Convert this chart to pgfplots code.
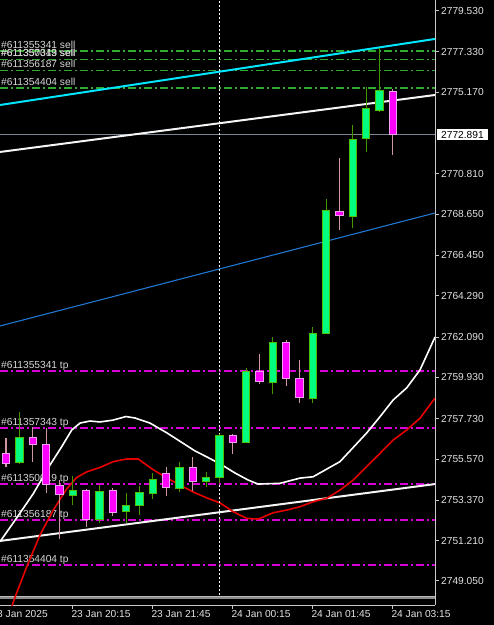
\documentclass[border=0pt]{standalone}
\usepackage{fontspec}
\setmainfont{Liberation Sans}
\usepackage{pgfplots}
\pgfplotsset{compat=1.18}

\definecolor{bullfillc}{RGB}{0,255,127}
\definecolor{bulllinec}{RGB}{80,190,0}
\definecolor{bullwickc}{RGB}{70,150,0}
\definecolor{bearfillc}{RGB}{255,0,255}
\definecolor{bearlinec}{RGB}{240,160,240}
\definecolor{bearwickc}{RGB}{205,150,160}
\definecolor{ordgreen}{RGB}{50,170,50}
\definecolor{ordmag}{RGB}{215,0,215}
\definecolor{lvlcyan}{RGB}{0,230,255}
\definecolor{lvlblue}{RGB}{30,120,210}
\definecolor{pricegray}{RGB}{119,136,153}
\definecolor{axisgray}{RGB}{200,200,200}
\definecolor{labgray}{RGB}{225,225,225}
\definecolor{ordlab}{RGB}{215,215,215}
\definecolor{curvered}{RGB}{230,0,0}

\pgfplotsset{
  bullW/.style={draw=bullwickc, line width=1pt, no markers},
  bullB/.style={draw=bulllinec, fill=bullfillc, line width=1pt, no markers},
  bearW/.style={draw=bearwickc, line width=1pt, no markers},
  bearB/.style={draw=bearlinec, fill=bearfillc, line width=1pt, no markers},
  ordG/.style={ordgreen, line width=1.5pt, dash pattern=on 8pt off 3pt on 2pt off 3pt, no markers},
  ordM/.style={ordmag, line width=1.5pt, dash pattern=on 8pt off 3pt on 2pt off 3pt, no markers},
}

% i, open, high, low, close, type
\newcommand{\candle}[6]{%
  \pgfmathsetmacro\xl{#1-0.275}%
  \pgfmathsetmacro\xr{#1+0.275}%
  \edef\tmp{\noexpand\addplot[#6W] coordinates {(#1,#4) (#1,#3)};%
    \noexpand\addplot[#6B] coordinates {(\xl,#2) (\xr,#2) (\xr,#5) (\xl,#5)} -- cycle;}%
  \tmp}

\newcommand{\ordlabel}[2]{%
  \node[anchor=base west, inner sep=0pt, xshift=1pt, yshift=2.4pt, text=ordlab,
        font=\fontsize{10.2}{12}\selectfont] at (axis cs:-0.45,#1) {#2};}

\begin{document}
\begin{tikzpicture}
\fill[black] (0pt,0pt) rectangle (494pt,625pt);
\begin{axis}[
  at={(0pt,20pt)}, anchor=south west,
  scale only axis, width=435pt, height=605pt,
  xmin=-0.45, xmax=32.175, ymin=2747.767, ymax=2780.102,
  clip mode=individual,
  axis x line*=bottom, axis y line*=right,
  axis line style={draw=axisgray, line width=1pt, -},
  tick align=outside, major tick length=4pt,
  tick style={draw=axisgray, line width=1pt},
  xtick={5,11,17,23,29},
  xticklabels={23 Jan 20:15, 23 Jan 21:45, 24 Jan 00:15, 24 Jan 01:45, 24 Jan 03:15},
  ytick={2749.05,2751.21,2753.37,2755.57,2757.73,2759.93,2762.09,2764.29,2766.45,2768.65,2770.81,2775.17,2777.33,2779.53},
  yticklabels={2749.050,2751.210,2753.370,2755.570,2757.730,2759.930,2762.090,2764.290,2766.450,2768.650,2770.810,2775.170,2777.330,2779.530},
  xticklabel style={anchor=north west, inner sep=0pt, xshift=-1.3pt, yshift=-1.6pt, text=labgray, font=\fontsize{10.2}{12}\selectfont},
  yticklabel style={anchor=west, inner sep=0pt, xshift=2pt, text=labgray, font=\fontsize{10.2}{12}\selectfont},
  no markers,
]
% bottom gray band
\addplot[color={rgb,255:red,140;green,140;blue,140}, line width=3pt] coordinates {(-0.45,2748.17) (32.175,2748.17)};
\addplot[color={rgb,255:red,185;green,185;blue,185}, line width=1pt] coordinates {(-0.45,2748.23) (32.175,2748.23)};

% order levels (sell = green, tp = magenta)
\addplot[ordG] coordinates {(-0.45,2777.38) (32.175,2777.38)};
\addplot[ordG] coordinates {(-0.45,2776.93) (32.175,2776.93)};
\addplot[ordG] coordinates {(-0.45,2776.34) (32.175,2776.34)};
\addplot[ordG] coordinates {(-0.45,2775.41) (32.175,2775.41)};
\addplot[ordM] coordinates {(-0.45,2760.27) (32.175,2760.27)};
\addplot[ordM] coordinates {(-0.45,2757.24) (32.175,2757.24)};
\addplot[ordM] coordinates {(-0.45,2754.23) (32.175,2754.23)};
\addplot[ordM] coordinates {(-0.45,2752.31) (32.175,2752.31)};
\addplot[ordM] coordinates {(-0.45,2749.90) (32.175,2749.90)};

\ordlabel{2777.38}{\#611355341 sell}
\ordlabel{2776.93}{\#611357343 sell}
\ordlabel{2776.93}{\#611350019 sell}
\ordlabel{2776.34}{\#611356187 sell}
\ordlabel{2775.41}{\#611354404 sell}
\ordlabel{2760.27}{\#611355341 tp}
\ordlabel{2757.24}{\#611357343 tp}
\ordlabel{2754.23}{\#611350019 tp}
\ordlabel{2752.31}{\#611356187 tp}
\ordlabel{2749.90}{\#611354404 tp}

% current price line
\addplot[pricegray, line width=1pt] coordinates {(-0.45,2772.891) (32.175,2772.891)};

% trend / channel lines
\addplot[lvlcyan, line width=2pt] coordinates {(-0.45,2774.49) (32.175,2778.02)};
\addplot[white!92!gray, line width=2pt] coordinates {(-0.45,2771.98) (32.175,2775.025)};
\addplot[lvlblue, line width=1.1pt] coordinates {(-0.45,2762.68) (32.175,2768.72)};
\addplot[white!92!gray, line width=2pt] coordinates {(-0.45,2751.19) (32.175,2754.23)};

% white curve
\addplot[white, line width=1.6pt] coordinates {
(-0.45,2751.15) (0.80,2752.42) (2.03,2753.70) (3.30,2755.25) (4.18,2756.23) (4.93,2757.12)
(5.55,2757.49) (6.30,2757.60) (7.05,2757.55) (8.03,2757.65) (9.00,2757.84) (9.68,2757.76)
(10.80,2757.49) (12.08,2756.96) (13.13,2756.48) (14.18,2756.00) (15.15,2755.65) (16.20,2755.25)
(17.18,2754.82) (18.15,2754.45) (18.90,2754.23) (20.55,2754.27) (22.05,2754.55) (23.03,2754.62)
(25.05,2755.43) (27.05,2756.96) (28.05,2757.83) (29.03,2758.72) (30.05,2759.37) (31.05,2760.33)
(32.18,2762.09)};

% red curve
\addplot[curvered, line width=1.6pt] coordinates {
(0.45,2747.71) (0.68,2748.19) (1.55,2749.80) (2.55,2751.51) (3.55,2752.84) (4.55,2753.97)
(5.30,2754.58) (6.05,2754.88) (7.05,2755.12) (8.05,2755.43) (9.05,2755.57) (9.92,2755.57)
(10.95,2755.04) (12.00,2754.58) (13.05,2754.18) (14.03,2753.81) (15.00,2753.51) (16.05,2753.22)
(17.05,2752.75) (18.05,2752.40) (18.92,2752.36) (20.05,2752.70) (21.05,2752.84) (22.05,2753.02)
(23.05,2753.29) (24.05,2753.47) (25.05,2753.91) (26.05,2754.45) (27.05,2755.16) (28.05,2755.87)
(29.05,2756.59) (30.05,2757.12) (31.05,2757.75) (32.18,2758.83)};

% period separator
\addplot[white, line width=1pt, dash pattern=on 2pt off 2pt] coordinates {(16,2748.3) (16,2780.102)};

% candles
\candle{0}{2755.87}{2756.68}{2755.13}{2755.34}{bear}
\candle{1}{2755.37}{2758.10}{2755.30}{2756.73}{bull}
\candle{2}{2756.73}{2757.30}{2755.43}{2756.36}{bear}
\candle{3}{2756.32}{2757.24}{2753.74}{2754.23}{bear}
\candle{4}{2754.18}{2754.45}{2751.32}{2753.67}{bear}
\candle{5}{2753.61}{2754.66}{2753.11}{2753.88}{bull}
\candle{6}{2753.86}{2753.97}{2751.94}{2752.31}{bear}
\candle{7}{2752.31}{2754.18}{2752.13}{2753.81}{bull}
\candle{8}{2753.86}{2754.00}{2752.52}{2752.71}{bear}
\candle{9}{2752.74}{2753.74}{2752.15}{2753.11}{bull}
\candle{10}{2753.07}{2754.14}{2752.58}{2753.77}{bull}
\candle{11}{2753.75}{2754.81}{2753.43}{2754.45}{bull}
\candle{12}{2754.81}{2755.12}{2753.59}{2754.05}{bear}
\candle{13}{2754.00}{2755.39}{2753.82}{2755.11}{bull}
\candle{14}{2755.11}{2755.69}{2753.88}{2754.36}{bear}
\candle{15}{2754.39}{2754.86}{2754.09}{2754.57}{bull}
\candle{16}{2754.59}{2756.88}{2754.27}{2756.80}{bull}
\candle{17}{2756.84}{2756.88}{2755.84}{2756.46}{bear}
\candle{18}{2756.44}{2760.42}{2756.42}{2760.27}{bull}
\candle{19}{2760.22}{2761.17}{2759.56}{2759.70}{bear}
\candle{20}{2759.65}{2762.11}{2759.04}{2761.82}{bull}
\candle{21}{2761.82}{2761.93}{2759.47}{2759.85}{bear}
\candle{22}{2759.88}{2760.86}{2758.55}{2758.85}{bear}
\candle{23}{2758.81}{2762.64}{2758.58}{2762.29}{bull}
\candle{24}{2762.29}{2769.47}{2762.25}{2768.84}{bull}
\candle{25}{2768.80}{2771.67}{2767.81}{2768.56}{bear}
\candle{26}{2768.52}{2773.42}{2767.90}{2772.67}{bull}
\candle{27}{2772.69}{2775.45}{2771.99}{2774.28}{bull}
\candle{28}{2774.17}{2777.52}{2774.12}{2775.25}{bull}
\candle{29}{2775.20}{2775.33}{2771.82}{2772.891}{bear}

% current price box and first date label
\node[anchor=west, xshift=2pt, fill=white, text=black, inner xsep=4pt, inner ysep=1.9pt,
      text height=7.3pt, text depth=0pt, font=\fontsize{10.2}{12}\selectfont]
  at (axis cs:32.175,2772.891) {2772.891};
\node[anchor=north west, inner sep=0pt, xshift=-1.3pt, yshift=-5.6pt, text=labgray,
      font=\fontsize{10.2}{12}\selectfont] at (axis cs:-1,2747.767) {23 Jan 2025};
\end{axis}
\pgfresetboundingbox
\path (0pt,0pt) rectangle (494pt,625pt);
\end{tikzpicture}
\end{document}
